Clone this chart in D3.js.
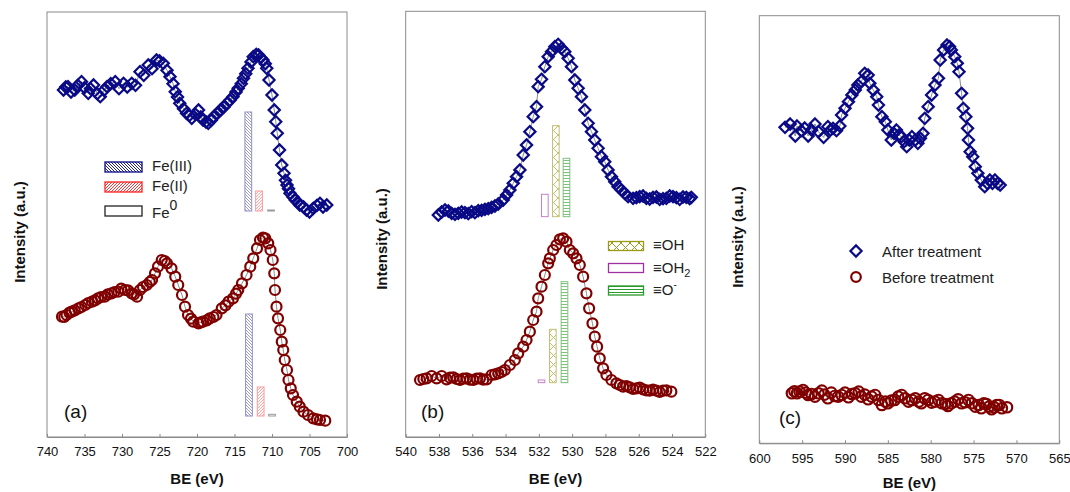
<!DOCTYPE html>
<html>
<head>
<meta charset="utf-8">
<script src="https://cdn.jsdelivr.net/npm/d3@7"></script>
<style>
  body { margin: 0; background: #fff; }
  svg { display: block; font-family: "Liberation Sans", Arial, sans-serif; }
</style>
</head>
<body>
<svg id="chart" width="1070" height="492"></svg>
<script>
'use strict';

// ---- (a) Fe 2p : [BE (eV), intensity (a.u.)]
const feAfter = [
  [737.8,104.1],[737.5,105.0],[737.2,105.1],[736.8,103.5],[736.3,104.1],[735.9,105.5],[735.4,106.6],[735.0,104.8],
  [734.5,103.1],[734.2,104.5],[733.8,105.6],[733.3,103.0],[732.9,102.1],[732.4,104.0],[732.0,105.1],[731.5,106.0],
  [730.9,106.6],[730.4,104.5],[729.8,106.1],[729.3,105.0],[728.7,106.1],[728.2,105.5],[727.6,109.6],[727.1,108.5],
  [726.5,111.6],[726.0,110.5],[725.4,113.1],[725.0,112.8],[724.5,112.1],[724.0,110.0],[723.6,108.1],[723.2,106.0],
  [722.9,103.6],[722.6,102.0],[722.3,100.1],[721.8,98.5],[721.4,97.1],[721.0,96.5],[720.7,95.6],[720.2,96.8],
  [719.8,98.1],[719.5,96.0],[719.2,95.1],[718.8,94.5],[718.5,94.1],[718.1,95.0],[717.8,96.1],[717.3,97.0],
  [716.9,98.1],[716.4,99.0],[716.0,100.1],[715.6,101.0],[715.2,102.1],[714.8,103.5],[714.5,104.6],[714.1,106.0],
  [713.8,107.6],[713.5,109.0],[713.2,110.6],[712.8,112.5],[712.5,114.1],[712.1,114.8],[711.8,114.6],[711.5,113.8],
  [711.2,113.1],[710.9,112.0],[710.7,110.6],[710.4,107.1],[710.0,102.6],[709.7,98.1],[709.5,94.6],[709.3,91.1],
  [709.0,86.1],[708.7,81.6],[708.4,79.1],[708.2,77.0],[708.0,75.6],[707.8,74.5],[707.6,73.1],[707.2,72.0],
  [706.9,71.1],[706.6,70.5],[706.3,69.6],[705.8,69.0],[705.4,68.1],[705.0,67.5],[704.5,68.6],[704.0,69.5],
  [703.6,70.1],[703.2,69.0],[702.7,69.6]
];
const feBefore = [
  [738.0,36.1],[737.7,36.0],[737.4,36.6],[737.0,37.3],[736.7,37.6],[736.3,38.0],[735.8,38.6],[735.4,39.0],
  [734.9,39.6],[734.5,40.2],[734.0,40.6],[733.6,41.0],[733.2,41.6],[732.8,42.0],[732.3,42.1],[731.9,42.8],
  [731.4,43.1],[731.0,43.5],[730.5,43.6],[730.1,44.5],[729.6,44.1],[729.2,44.0],[728.7,43.1],[728.4,42.8],
  [728.0,42.1],[727.6,44.1],[727.2,45.0],[726.7,45.6],[726.3,46.5],[726.0,47.1],[725.6,49.1],[725.2,51.1],
  [724.7,53.1],[724.3,52.8],[724.0,52.1],[723.4,50.6],[722.9,48.1],[722.5,45.6],[722.0,42.6],[721.6,39.1],
  [721.2,36.6],[720.8,35.5],[720.5,34.6],[719.8,34.1],[719.5,34.4],[719.2,34.6],[718.7,35.0],[718.3,35.6],
  [717.8,36.0],[717.4,36.6],[716.7,38.6],[716.2,39.5],[715.8,40.6],[715.2,41.6],[714.8,43.0],[714.5,44.1],
  [714.0,46.1],[713.4,48.6],[712.9,51.1],[712.5,53.6],[712.0,56.6],[711.6,59.1],[711.2,59.8],[710.9,59.6],
  [710.5,58.1],[710.2,56.1],[709.9,53.1],[709.7,49.1],[709.6,44.1],[709.4,39.1],[709.2,35.6],[708.9,32.1],
  [708.7,28.6],[708.5,26.1],[708.3,23.1],[708.0,20.1],[707.8,17.1],[707.5,14.6],[707.2,12.6],[706.7,10.6],
  [706.3,9.1],[705.8,7.6],[705.2,6.6],[704.5,5.6],[704.0,5.3],[703.6,5.1],[702.9,4.9]
];
const feSpecies = ["Fe(III)", "Fe(II)", "Fe0"];
const feBarBE = [[713.16, 711.73, 710.13], [713.07, 711.51, 710.0]];   // after, before
const feBarTop = [[97.5, 73.8, 68.1], [36.9, 15.0, 6.8]];
const feBarBase = [67.8, 6.3];
const feTicks = [740, 735, 730, 725, 720, 715, 710, 705, 700];

// ---- (b) O 1s
const oAfter = [
  [538.04,66.6],[537.84,67.5],[537.64,68.1],[537.44,67.8],[537.24,67.1],[537.04,66.8],[536.84,67.1],[536.64,67.5],
  [536.44,67.3],[536.24,67.0],[536.04,67.6],[535.84,67.3],[535.64,67.9],[535.44,68.0],[535.24,68.3],[535.04,68.5],
  [534.84,68.9],[534.64,69.3],[534.44,69.9],[534.14,71.1],[533.94,72.6],[533.74,74.1],[533.54,76.1],[533.34,78.1],
  [533.14,80.1],[532.94,84.6],[532.74,87.6],[532.54,91.6],[532.34,96.1],[532.14,99.1],[532.04,105.1],[531.84,107.3],
  [531.64,111.1],[531.44,114.1],[531.24,115.6],[531.04,117.1],[530.84,117.8],[530.64,116.6],[530.44,115.6],[530.24,113.6],
  [530.04,111.1],[529.84,107.1],[529.64,104.6],[529.44,102.1],[529.24,98.1],[529.04,94.1],[528.84,91.6],[528.64,89.1],
  [528.44,86.6],[528.24,84.1],[528.04,82.6],[527.84,80.1],[527.64,78.1],[527.44,76.6],[527.24,75.1],[527.04,74.1],
  [526.84,73.1],[526.64,72.1],[526.34,71.6],[526.14,71.8],[525.94,72.1],[525.74,72.3],[525.54,71.6],[525.34,71.4],
  [525.14,71.9],[524.94,72.0],[524.74,71.3],[524.54,71.5],[524.34,71.6],[524.14,72.3],[523.94,72.1],[523.74,71.8],
  [523.54,71.3],[523.34,72.0],[523.14,71.9],[522.94,71.5],[522.84,71.9]
];
const oBefore = [
  [539.14,17.1],[538.94,17.4],[538.74,17.6],[538.44,18.3],[538.14,17.6],[537.84,18.3],[537.54,17.3],[537.34,17.8],
  [537.14,17.9],[536.94,17.4],[536.74,17.1],[536.54,17.5],[536.34,17.6],[536.14,17.2],[535.94,17.1],[535.74,17.5],
  [535.54,17.6],[535.34,17.2],[535.14,17.3],[534.84,18.6],[534.64,18.8],[534.44,19.1],[534.24,19.5],[534.04,20.1],
  [533.74,21.6],[533.44,23.1],[533.24,25.1],[532.94,27.1],[532.74,29.1],[532.54,31.6],[532.34,35.1],[532.14,37.6],
  [532.04,41.6],[531.84,45.1],[531.64,48.6],[531.44,52.1],[531.34,53.6],[531.14,56.1],[530.94,57.6],[530.74,59.3],
  [530.54,59.6],[530.34,58.6],[530.14,56.1],[529.94,55.1],[529.74,53.6],[529.54,51.6],[529.34,48.1],[529.14,43.1],
  [528.98,38.6],[528.78,34.1],[528.64,30.1],[528.50,27.1],[528.34,23.6],[528.14,20.6],[527.94,18.6],[527.64,17.1],
  [527.34,16.1],[527.14,15.6],[526.94,15.1],[526.74,15.3],[526.54,14.9],[526.34,14.4],[526.14,14.6],[525.94,14.8],
  [525.74,14.3],[525.54,14.0],[525.34,13.9],[525.14,14.2],[524.94,13.9],[524.74,13.5],[524.54,13.9],[524.34,14.0],
  [524.04,13.6]
];
const oSpecies = ["≡OH", "≡OH2", "≡O-"];
const oBarBE = [[530.98, 531.64, 530.34], [531.16, 531.84, 530.46]];  // OH, OH2, O-
const oBarTop = [[93.4, 72.8, 83.6], [32.3, 17.1, 46.6]];
const oBarBase = [66.1, 16.3];
const oTicks = [540, 538, 536, 534, 532, 530, 528, 526, 524, 522];

// ---- (c) 
const cAfter = [
  [597.0,94.8],[596.4,95.8],[595.8,92.2],[595.6,95.2],[595.1,93.8],[594.7,94.6],[594.3,92.2],[593.9,94.0],
  [593.5,95.8],[593.1,93.5],[592.5,91.8],[592.0,95.0],[591.7,94.0],[591.4,94.5],[591.0,93.8],[590.6,95.2],
  [590.4,98.5],[590.0,100.5],[589.6,102.5],[589.2,104.5],[588.8,106.0],[588.5,107.5],[588.1,108.5],[587.7,111.0],
  [587.3,110.5],[587.1,108.0],[586.7,106.0],[586.3,104.0],[586.1,101.5],[585.7,98.0],[585.3,96.5],[585.0,94.0],
  [584.6,91.0],[584.3,93.0],[584.0,94.0],[583.7,92.5],[583.4,92.0],[583.1,90.5],[582.8,89.0],[582.5,91.0],
  [582.2,92.0],[581.8,91.0],[581.5,90.0],[581.2,91.5],[580.9,93.0],[580.7,97.5],[580.3,101.0],[579.9,104.5],
  [579.5,107.5],[579.1,109.5],[578.9,115.0],[578.5,118.0],[578.1,119.5],[577.8,119.0],[577.6,118.0],[577.2,116.0],
  [576.9,114.0],[576.7,111.5],[576.4,105.0],[576.2,100.5],[575.9,98.0],[575.7,94.5],[575.6,91.0],[575.4,87.5],
  [575.1,86.0],[574.8,83.0],[574.5,81.0],[574.1,79.0],[573.7,77.0],[573.4,78.0],[573.1,79.0],[572.8,78.0],
  [572.5,79.0],[572.2,78.0],[571.9,77.5]
];
const cBefore = [
  [596.2,15.0],[595.9,15.6],[595.6,15.0],[595.3,15.5],[594.9,16.0],[594.6,15.2],[594.3,14.5],[593.9,14.8],
  [593.5,14.0],[593.1,15.0],[592.7,15.8],[592.4,14.6],[592.0,13.5],[591.6,15.2],[591.2,14.2],[590.8,14.0],
  [590.4,14.5],[590.0,15.2],[589.6,13.8],[589.2,14.8],[588.8,15.0],[588.4,15.5],[588.1,14.0],[587.7,14.6],
  [587.3,13.2],[586.9,14.0],[586.5,14.5],[586.1,13.0],[585.7,11.5],[585.3,12.5],[585.0,12.0],[584.6,12.8],
  [584.2,13.0],[583.8,14.0],[583.4,14.5],[583.0,13.5],[582.6,12.5],[582.2,13.0],[581.8,13.5],[581.4,12.5],
  [581.1,12.0],[580.7,13.5],[580.3,13.0],[579.9,12.2],[579.5,12.5],[579.1,13.0],[578.7,12.0],[578.3,11.8],
  [578.0,11.2],[577.6,12.0],[577.2,12.5],[576.8,13.2],[576.4,12.0],[576.0,12.3],[575.6,13.0],[575.2,12.0],
  [574.8,11.0],[574.4,11.5],[574.1,10.5],[573.8,12.0],[573.5,11.8],[573.2,11.0],[572.9,10.2],[572.6,10.8],
  [572.3,11.5],[572.0,11.5],[571.7,10.5],[571.1,10.8]
];
const cLegend = ["After treatment", "Before treatment"];
const cTicks = [600, 595, 590, 585, 580, 575, 570, 565];

// ---- styles
const NAVY = "#0a0a86";
const MAROON = "#800000";
const FONT_TICK = 13;

const svg = d3.select("#chart");
const defs = svg.append("defs");

function hatch(id, color, size, lines, sw) {
  const p = defs.append("pattern").attr("id", id)
    .attr("patternUnits", "userSpaceOnUse")
    .attr("width", size).attr("height", size);
  p.append("rect").attr("width", size).attr("height", size).attr("fill", "#fff");
  lines.forEach(l => p.append("line")
    .attr("x1", l[0]).attr("y1", l[1]).attr("x2", l[2]).attr("y2", l[3])
    .attr("stroke", color).attr("stroke-width", sw));
}
hatch("fe3", NAVY, 3, [[0, 0, 3, 3], [-1, 2, 1, 4], [2, -1, 4, 1]], 0.9);
hatch("fe2", "#ff2020", 3, [[0, 3, 3, 0], [-1, 1, 1, -1], [2, 4, 4, 2]], 0.9);
hatch("oh", "#9a9a18", 9, [[0, 0, 9, 9], [9, 0, 0, 9]], 1);
hatch("oo", "#2a9a2a", 3, [[0, 1.5, 3, 1.5]], 1);

const FE_STYLE = [
  { fill: "url(#fe3)", stroke: NAVY },
  { fill: "url(#fe2)", stroke: "#ff2020" },
  { fill: "#fff", stroke: "#222" }
];
const O_STYLE = [
  { fill: "url(#oh)", stroke: "#9a9a18" },
  { fill: "#fff", stroke: "#a030a0" },
  { fill: "url(#oo)", stroke: "#2a9a2a" }
];

const diamond = "M0,-5.6L5.6,0L0,5.6L-5.6,0Z";

function frame(p) {
  const x = d3.scaleLinear().domain(p.xDomain).range([p.left, p.right]);
  const y = d3.scaleLinear().domain([0, p.yMax]).range([p.bottom, p.top]);
  const g = svg.append("g");
  g.append("rect")
    .attr("x", p.left).attr("y", p.top)
    .attr("width", p.right - p.left).attr("height", p.bottom - p.top)
    .attr("fill", "none").attr("stroke", "#8a8a8a").attr("stroke-width", 1);

  const ax = g.append("g").attr("transform", `translate(0,${p.bottom})`)
    .call(d3.axisBottom(x).tickValues(p.ticks).tickFormat(d3.format("d"))
      .tickSizeInner(-3).tickSizeOuter(0).tickPadding(10));
  ax.select(".domain").attr("stroke", "#8a8a8a");
  ax.selectAll(".tick line").attr("stroke", "#8a8a8a");
  ax.selectAll(".tick text").attr("font-size", FONT_TICK).attr("fill", "#111")
    .attr("font-family", "Liberation Sans, Arial, sans-serif");

  g.append("text").attr("x", (p.left + p.right) / 2).attr("y", p.titleY)
    .attr("text-anchor", "middle").attr("font-size", 15).attr("font-weight", "bold")
    .attr("fill", "#111").text("BE (eV)");
  g.append("text")
    .attr("transform", `translate(${p.yTitleX},${p.yTitleY}) rotate(-90)`)
    .attr("text-anchor", "middle").attr("font-size", 15).attr("font-weight", "bold")
    .attr("fill", "#111").text("Intensity (a.u.)");
  g.append("text").attr("x", p.tagX).attr("y", p.tagY)
    .attr("font-size", 19).attr("fill", "#111").text(p.tag);
  return { g, x, y };
}

function spectrum(c, data, kind, r) {
  const line = d3.line().x(d => c.x(d[0])).y(d => c.y(d[1]));
  c.g.append("path").datum(data).attr("d", line)
    .attr("fill", "none").attr("stroke", "#8c8c8c").attr("stroke-width", 1);
  if (kind === "diamond") {
    c.g.selectAll(null).data(data).enter().append("path")
      .attr("d", diamond)
      .attr("transform", d => `translate(${c.x(d[0])},${c.y(d[1])})`)
      .attr("fill", "none").attr("stroke", NAVY).attr("stroke-width", 2.2);
  } else {
    c.g.selectAll(null).data(data).enter().append("circle")
      .attr("cx", d => c.x(d[0])).attr("cy", d => c.y(d[1])).attr("r", r)
      .attr("fill", "none").attr("stroke", MAROON).attr("stroke-width", 2.2);
  }
}

function bars(c, be, top, base, width, styles, opacity) {
  const rows = be.map((b, i) => ({ b, t: top[i], s: styles[i] }));
  c.g.selectAll(null).data(rows).enter().append("rect")
    .attr("x", d => c.x(d.b + width / 2))
    .attr("width", d => c.x(d.b - width / 2) - c.x(d.b + width / 2))
    .attr("y", d => c.y(d.t))
    .attr("height", d => Math.max(1, c.y(base) - c.y(d.t)))
    .attr("fill", d => d.s.fill).attr("stroke", d => d.s.stroke)
    .attr("stroke-width", 1).attr("opacity", opacity);
}

// ---------- panel (a)
const pa = frame({ xDomain: [740, 700], yMax: 127.5, left: 47, right: 347, top: 12, bottom: 437,
  ticks: feTicks, titleY: 484, yTitleX: 25, yTitleY: 232, tag: "(a)", tagX: 64, tagY: 418 });
bars(pa, feBarBE[0], feBarTop[0], feBarBase[0], 0.9, FE_STYLE, 0.45);
bars(pa, feBarBE[1], feBarTop[1], feBarBase[1], 0.9, FE_STYLE, 0.45);
spectrum(pa, feAfter, "diamond");
spectrum(pa, feBefore, "circle", 5);

const legA = pa.g.append("g");
feSpecies.forEach((name, i) => {
  const yy = [162, 182, 206][i];
  legA.append("rect").attr("x", 105).attr("y", yy).attr("width", 37).attr("height", 10)
    .attr("fill", FE_STYLE[i].fill).attr("stroke", FE_STYLE[i].stroke).attr("stroke-width", 1.3);
  const t = legA.append("text").attr("x", 152).attr("y", [171, 191, 218][i])
    .attr("font-size", 15).attr("fill", "#222");
  if (name === "Fe0") {
    t.append("tspan").text("Fe");
    t.append("tspan").attr("dy", -8).attr("font-size", 14).text("0");
  } else {
    t.text(name);
  }
});

// ---------- panel (b)
const pb = frame({ xDomain: [540, 522], yMax: 127.7, left: 405.7, right: 705.3, top: 11.3, bottom: 437,
  ticks: oTicks, titleY: 484, yTitleX: 387, yTitleY: 239, tag: "(b)", tagX: 421, tagY: 418 });
bars(pb, oBarBE[0], oBarTop[0], oBarBase[0], 0.4, O_STYLE, 0.6);
bars(pb, oBarBE[1], oBarTop[1], oBarBase[1], 0.4, O_STYLE, 0.6);
spectrum(pb, oAfter, "diamond");
spectrum(pb, oBefore, "circle", 5);

const legB = pb.g.append("g");
oSpecies.forEach((name, i) => {
  const yy = [241.5, 263.5, 286][i];
  legB.append("rect").attr("x", 608.5).attr("y", yy).attr("width", 35).attr("height", 9)
    .attr("fill", O_STYLE[i].fill).attr("stroke", O_STYLE[i].stroke).attr("stroke-width", 1.3);
  const t = legB.append("text").attr("x", 653).attr("y", [250, 272.5, 295][i])
    .attr("font-size", 15).attr("fill", "#222");
  if (name === "≡OH2") {
    t.append("tspan").text("≡OH");
    t.append("tspan").attr("dy", 4).attr("font-size", 11).text("2");
  } else if (name === "≡O-") {
    t.append("tspan").text("≡O");
    t.append("tspan").attr("dy", -7).attr("font-size", 10).text("-");
  } else {
    t.text(name);
  }
});

// ---------- panel (c)
const pc = frame({ xDomain: [600, 565], yMax: 128.3, left: 759.3, right: 1059.3, top: 15.7, bottom: 443.3,
  ticks: cTicks, titleY: 488, yTitleX: 743, yTitleY: 237, tag: "(c)", tagX: 779, tagY: 424 });
spectrum(pc, cAfter, "diamond");
spectrum(pc, cBefore, "circle", 5.2);

const legC = pc.g.append("g");
legC.append("path").attr("d", diamond).attr("transform", "translate(856,251)")
  .attr("fill", "none").attr("stroke", NAVY).attr("stroke-width", 2.2);
legC.append("circle").attr("cx", 856).attr("cy", 277).attr("r", 4.8)
  .attr("fill", "none").attr("stroke", MAROON).attr("stroke-width", 2.2);
cLegend.forEach((name, i) => {
  legC.append("text").attr("x", 882).attr("y", [256.5, 283][i])
    .attr("font-size", 15).attr("fill", "#222").text(name);
});
</script>
</body>
</html>
